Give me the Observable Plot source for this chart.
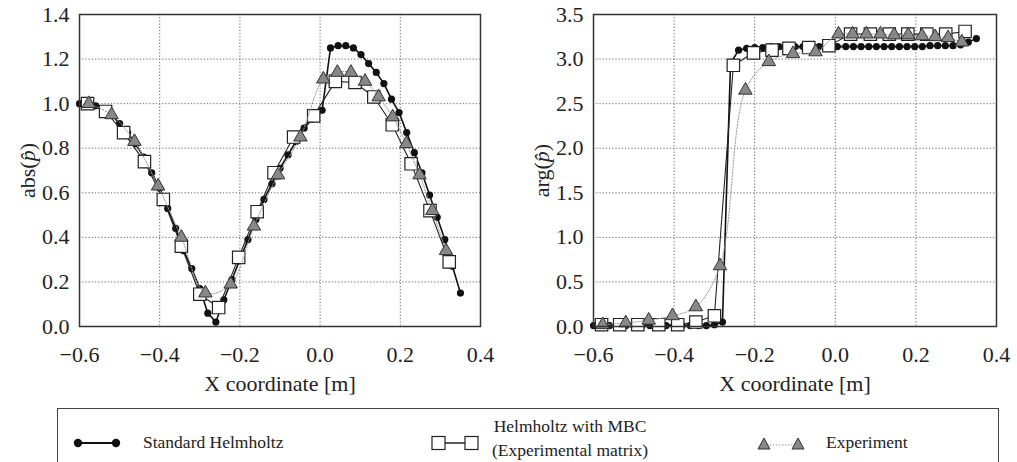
<!DOCTYPE html>
<html><head><meta charset="utf-8">
<script src="https://cdn.jsdelivr.net/npm/d3@7"></script>
<script src="https://cdn.jsdelivr.net/npm/@observablehq/plot@0.6"></script>
<style>
body{margin:0;background:#fff;font-family:"Liberation Serif",serif;}
#wrap{position:relative;width:1017px;height:462px;overflow:hidden;background:#fff;}
#left{position:absolute;left:0;top:0;}
#right{position:absolute;left:508px;top:0;}
#legend{position:absolute;left:57px;top:408px;width:942px;height:80px;border:1.5px solid #444;box-sizing:border-box;color:#222;font-size:17.5px;}
.lt{position:absolute;white-space:nowrap;line-height:1;}
svg.sw{position:absolute;overflow:visible;}
</style></head><body><div id="wrap"><div id="left"></div><div id="right"></div>
<div id="legend">
<svg class="sw" style="left:14px;top:24px" width="50" height="20"><line x1="6" y1="10" x2="44" y2="10" stroke="#111" stroke-width="2"/><circle cx="6" cy="10" r="4.2" fill="#111"/><circle cx="44" cy="10" r="4.2" fill="#111"/></svg>
<div class="lt" style="left:85px;top:25px">Standard Helmholtz</div>
<svg class="sw" style="left:374px;top:24px" width="50" height="20"><line x1="6" y1="10" x2="40" y2="10" stroke="#222" stroke-width="1.5"/><rect x="0" y="3.5" width="13" height="13" fill="#fff" stroke="#222" stroke-width="1.2"/><rect x="33" y="3.5" width="13" height="13" fill="#fff" stroke="#222" stroke-width="1.2"/></svg>
<div class="lt" style="left:432px;top:9px;text-align:center;width:160px">Helmholtz with MBC<br><span style="display:inline-block;margin-top:6px">(Experimental matrix)</span></div>
<svg class="sw" style="left:700px;top:24px" width="50" height="20"><line x1="6" y1="12" x2="40" y2="12" stroke="#999" stroke-width="1" stroke-dasharray="1.5,1.5"/><path d="M6,5 L12,16 L0,16 Z" fill="#888" stroke="#333" stroke-width="1"/><path d="M40,5 L46,16 L34,16 Z" fill="#888" stroke="#333" stroke-width="1"/></svg>
<div class="lt" style="left:768px;top:25px">Experiment</div>
</div>
</div>
<script>
// Standard Helmholtz (filled dots)
const shX = [-0.60,-0.58,-0.56,-0.54,-0.52,-0.50,-0.48,-0.46,-0.44,-0.42,-0.40,-0.38,-0.36,-0.34,-0.32,-0.30,-0.28,-0.26,-0.24,-0.22,-0.20,-0.18,-0.16,-0.14,-0.12,-0.10,-0.08,-0.06,-0.04,-0.02,0.005,0.026,0.045,0.064,0.083,0.102,0.121,0.140,0.159,0.178,0.197,0.216,0.235,0.254,0.273,0.292,0.311,0.330,0.350];
const shAbs = [1.00,1.00,0.99,0.97,0.95,0.91,0.87,0.82,0.76,0.69,0.62,0.53,0.44,0.34,0.26,0.17,0.06,0.02,0.12,0.21,0.30,0.39,0.48,0.57,0.64,0.71,0.77,0.83,0.89,0.93,0.97,1.25,1.26,1.26,1.25,1.22,1.18,1.14,1.09,1.02,0.96,0.87,0.78,0.69,0.59,0.49,0.39,0.27,0.15];
const shArg = [0.01,0.01,0.01,0.01,0.01,0.01,0.01,0.01,0.01,0.01,0.01,0.01,0.01,0.01,0.01,0.02,0.05,2.95,3.10,3.12,3.13,3.13,3.14,3.14,3.14,3.14,3.14,3.14,3.14,3.14,3.14,3.14,3.14,3.14,3.14,3.14,3.14,3.14,3.14,3.14,3.14,3.14,3.15,3.15,3.15,3.15,3.16,3.19,3.23];
// Helmholtz with MBC (open squares)
const mbcX = [-0.58,-0.535,-0.49,-0.438,-0.391,-0.346,-0.30,-0.253,-0.203,-0.157,-0.115,-0.066,-0.016,0.038,0.087,0.134,0.18,0.227,0.274,0.322];
const mbcAbs = [1.00,0.965,0.87,0.74,0.57,0.36,0.145,0.085,0.31,0.515,0.69,0.85,0.945,1.10,1.095,1.03,0.905,0.73,0.52,0.29];
const mbcArg = [0.02,0.02,0.02,0.02,0.02,0.05,0.12,2.93,3.07,3.10,3.12,3.13,3.15,3.28,3.28,3.28,3.28,3.28,3.28,3.31];
// Experiment (grey triangles)
const expX = [-0.577,-0.52,-0.463,-0.404,-0.346,-0.286,-0.223,-0.165,-0.105,-0.049,0.008,0.043,0.077,0.112,0.146,0.181,0.215,0.248,0.28,0.314];
const expAbs = [1.00,0.95,0.83,0.63,0.40,0.15,0.19,0.45,0.68,0.85,1.11,1.14,1.14,1.10,1.03,0.94,0.82,0.68,0.52,0.34];
const expArg = [0.02,0.04,0.07,0.12,0.22,0.68,2.65,2.97,3.06,3.08,3.28,3.28,3.28,3.28,3.27,3.27,3.26,3.25,3.24,3.19];
// ticks
const xTicks = [-0.6,-0.4,-0.2,0.0,0.2,0.4];
const absTicks = [0,0.2,0.4,0.6,0.8,1.0,1.2,1.4];
const argTicks = [0,0.5,1.0,1.5,2.0,2.5,3.0,3.5];

const fmtX = d => (d < -1e-9 ? "\u2212" + Math.abs(d).toFixed(1) : Math.abs(d).toFixed(1));
function panel(ys, yTicks, ylabel, width, ml, mr){
  const sh = shX.map((x,i)=>({x, y: ys[0][i]}));
  const mbc = mbcX.map((x,i)=>({x, y: ys[1][i]}));
  const ex = expX.map((x,i)=>({x, y: ys[2][i]}));
  const grid = {stroke:"#666", strokeOpacity:1, strokeWidth:1, strokeDasharray:"1.2,2"};
  const svg = Plot.plot({
    width, height:400, marginLeft:ml, marginRight:mr, marginTop:14, marginBottom:74,
    style:{fontFamily:'"Liberation Serif", serif', fontSize:"22px", color:"#222", background:"white", overflow:"visible"},
    x:{domain:[-0.6,0.4]},
    y:{domain:[yTicks[0], yTicks[yTicks.length-1]]},
    marks:[
      Plot.gridX(xTicks.slice(1,-1), grid),
      Plot.gridY(yTicks.slice(1,-1), grid),
      Plot.axisX(xTicks, {tickSize:0, tickPadding:20, tickFormat:fmtX, label:"X coordinate [m]", labelAnchor:"center", labelArrow:"none", labelOffset:64}),
      Plot.axisY(yTicks, {tickSize:0, tickPadding:10, tickFormat:d=>d.toFixed(1), label:ylabel + "(p\u0302)", labelAnchor:"center", labelArrow:"none", labelOffset:60}),
      Plot.line(sh, {x:"x", y:"y", stroke:"#111", strokeWidth:1.6}),
      Plot.dot(sh, {x:"x", y:"y", r:3.6, fill:"#111"}),
      Plot.line(mbc, {x:"x", y:"y", stroke:"#222", strokeWidth:1.1}),
      Plot.dot(mbc, {x:"x", y:"y", symbol:"square", r:7, fill:"white", stroke:"#222", strokeWidth:1.2}),
      Plot.line(ex, {x:"x", y:"y", stroke:"#999", strokeWidth:1, strokeDasharray:"1.5,1.5", curve:"catmull-rom"}),
      Plot.dot(ex, {x:"x", y:"y", symbol:"triangle", r:5, fill:"#888", stroke:"#333", strokeWidth:1}),
      Plot.frame({stroke:"#333", strokeWidth:1.5})
    ]
  });
  // italic p-hat inside the y label
  svg.querySelectorAll("text").forEach(t => {
    if (t.textContent === ylabel + "(p\u0302)") {
      t.textContent = "";
      const NS = "http://www.w3.org/2000/svg";
      const a = document.createElementNS(NS, "tspan"); a.textContent = ylabel + "(";
      const b = document.createElementNS(NS, "tspan"); b.textContent = "p\u0302"; b.setAttribute("font-style", "italic");
      const c = document.createElementNS(NS, "tspan"); c.textContent = ")";
      t.append(a, b, c);
    }
  });
  return svg;
}
document.getElementById("left").append(panel([shAbs,mbcAbs,expAbs], absTicks, "abs", 508, 79, 28));
document.getElementById("right").append(panel([shArg,mbcArg,expArg], argTicks, "arg", 509, 85, 21));
</script>
</body></html>
